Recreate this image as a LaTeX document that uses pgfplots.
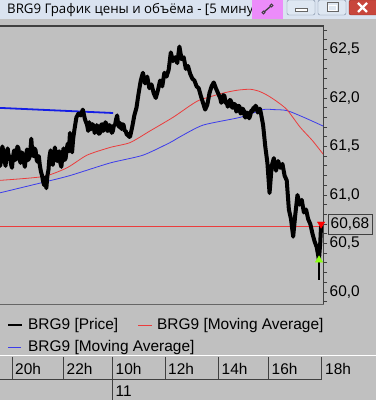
\documentclass[border=0pt]{standalone}
\usepackage{pgfplots}
\pgfplotsset{compat=1.18}
\usepackage{fontspec}
\setmainfont{Liberation Sans}
\newfontfamily\titlefont{Open Sans}
\definecolor{bg}{RGB}{192,192,192}
\definecolor{titlebg}{RGB}{218,227,240}
\definecolor{pinkicon}{RGB}{236,140,250}
\definecolor{closered}{RGB}{200,70,60}
\definecolor{btnbg}{RGB}{222,231,242}
\definecolor{btnborder}{RGB}{120,136,160}
\definecolor{frame}{RGB}{64,64,64}
\definecolor{mared}{RGB}{235,60,60}
\definecolor{mablue}{RGB}{60,60,235}
\definecolor{trendblue}{RGB}{20,30,230}
\definecolor{lowgreen}{RGB}{140,255,20}
\newcommand{\lf}{\fontsize{15.5}{17}\selectfont}
\begin{document}
\begin{tikzpicture}
\useasboundingbox (0,0) rectangle (376bp,400bp);
\clip (0,0) rectangle (376bp,400bp);
\fill[bg] (0,0) rectangle (376bp,400bp);
\begin{scope}[x=1bp,y=-1bp,yshift=400bp]
 % title bar
 \fill[titlebg] (0,0) rectangle (376,19);
 \node[anchor=base west, inner sep=0pt, font=\titlefont\fontsize{13.3}{15}\selectfont] at (7,13.5) {BRG9 График цены и объёма - [5 минут]};
 \fill[pinkicon] (252,0) rectangle (283,19);
 \draw[black!75, line width=1.3bp, line cap=round] (264,12) -- (271,6);
 \draw[black!75, line width=0.9bp] (263.5,12.5) circle (1.6);
 \draw[black!75, line width=0.9bp] (271.5,5.5) circle (1.6);
 % buttons
 \draw[btnborder, fill=btnbg, rounded corners=2bp] (287,0) rectangle (315,15);
 \draw[black!60, fill=white] (295,8) rectangle (307,11);
 \draw[btnborder, fill=btnbg, rounded corners=2bp] (318,0) rectangle (346,15);
 \draw[black!60, line width=1bp] (327,3) rectangle (338,12);
 \draw[white, line width=1bp] (328.5,5.5) rectangle (336.5,10.5);
 \draw[closered!70!black, fill=closered, rounded corners=2bp] (349,0) rectangle (380,15);
 \draw[white, line width=2.2bp] (358,3) -- (367,12) (367,3) -- (358,12);
\end{scope}
\begin{axis}[
 at={(0bp,96bp)}, anchor=south west,
 scale only axis, width=323bp, height=278bp,
 xmin=-0.59, xmax=149.9, ymin=59.876, ymax=62.742,
 axis x line=none, axis y line=right,
 axis line style={frame, line width=1bp, -},
 ytick={60,60.5,61,61.5,62,62.5},
 minor ytick={59.9,60.1,60.2,60.3,60.4,60.6,60.7,60.8,60.9,61.1,61.2,61.3,61.4,61.6,61.7,61.8,61.9,62.1,62.2,62.3,62.4,62.6,62.7},
 tick align=outside, major tick length=4bp, minor tick length=4bp,
 tick style={frame, line width=0.8bp},
 yticklabel style={font=\lf, inner sep=0pt, anchor=west, xshift=2.5bp, text=black},
 /pgf/number format/use comma, /pgf/number format/fixed, /pgf/number format/fixed zerofill, /pgf/number format/precision=1, /pgf/number format/assume math mode=true,
]
% current price line
\addplot[mared, line width=0.8bp] coordinates {(-1,60.68)(151,60.68)};
% blue trend line
\addplot[trendblue, line width=1.8bp] coordinates {(-1,61.898)(52.1,61.845)};
% moving averages
\addplot[mablue, line width=0.8bp, smooth, tension=0.4] coordinates {
(-1,61.02)(19.5,61.13)(32,61.20)(50.7,61.33)(66,61.41)(78.6,61.54)(83.3,61.60)(94,61.72)(111.2,61.80)(121.9,61.88)(127,61.88)(133.1,61.87)(141,61.80)(150,61.71)};
\addplot[mared, line width=0.8bp, smooth, tension=0.4] coordinates {
(-1,61.15)(19.5,61.19)(30.6,61.28)(39.9,61.41)(50.7,61.49)(60,61.54)(69.3,61.66)(80,61.80)(87.9,61.92)(92.6,61.98)(103.3,62.05)(110,62.08)(115.9,62.09)(120,62.07)(123.8,62.03)(128,61.97)(133.1,61.88)(139.2,61.70)(145,61.56)(150,61.42)};
% price
\addplot[black, line width=4bp, line join=round] coordinates {
(-1,61.40)(-0.5,61.30)(0,61.38)(0.5,61.50)(1,61.45)(1.5,61.36)(2,61.30)(2.5,61.42)(3,61.48)(3.5,61.38)(4,61.40)(4.5,61.32)(5,61.28)(5.5,61.40)(6,61.46)(6.5,61.36)(7,61.38)(7.5,61.50)(8,61.48)(8.5,61.37)(9,61.33)(9.5,61.44)
(10,61.42)(10.5,61.34)(11,61.29)(11.5,61.40)(12,61.47)(12.5,61.36)(13,61.38)(13.5,61.45)(14,61.58)(14.5,61.42)(15,61.40)(15.5,61.48)(16,61.46)(16.5,61.36)(17,61.34)(17.5,61.40)(18,61.30)(18.5,61.24)(19,61.20)(19.5,61.14)
(20,61.10)(20.5,61.18)(21,61.07)(21.5,61.20)(22,61.26)(22.5,61.40)(23,61.46)(23.5,61.34)(24,61.31)(24.5,61.42)(25,61.49)(25.5,61.38)(26,61.35)(26.5,61.44)(27,61.45)(27.5,61.33)(28,61.29)(28.5,61.40)(29,61.48)(29.5,61.36)
(30,61.38)(30.5,61.48)(31,61.53)(31.5,61.45)(32,61.64)(32.5,61.50)(33,61.44)(33.5,61.58)(34,61.66)(35,61.80)(36,61.84)(37,61.82)(38,61.88)(39,61.78)
(40,61.72)(40.5,61.66)(41,61.75)(41.5,61.68)(42,61.68)(42.5,61.73)(43,61.71)(43.5,61.64)(44,61.66)(44.5,61.72)(45,61.70)(45.5,61.63)(46,61.64)(46.5,61.72)(47,61.73)(47.5,61.66)(48,61.69)(48.5,61.75)(49,61.73)(49.5,61.66)
(50,61.67)(50.5,61.72)(51,61.70)(51.5,61.64)(52,61.66)(52.5,61.72)(53,61.72)(53.5,61.78)(54,61.82)(54.5,61.72)(55,61.70)(55.5,61.74)(56,61.68)(56.5,61.73)(57,61.72)(57.5,61.66)(58,61.66)(58.5,61.62)(59,61.63)(59.5,61.60)
(60,61.60)(61,61.70)(62,61.82)(63,61.90)(64,62.05)(65,62.18)(66,62.26)(67,62.15)(68,62.22)(69,62.10)
(70,62.14)(71,62.05)(72,62.00)(73,62.08)(74,62.18)(75,62.12)(76,62.26)(77,62.22)(78,62.29)(79,62.47)
(80,62.38)(81,62.42)(82,62.36)(83,62.53)(84,62.40)(85,62.42)(86,62.30)(87,62.33)(88,62.25)(89,62.20)
(90,62.18)(91,62.12)(92,62.10)(93,62.02)(94,61.95)(95,61.88)(96,61.93)(97,62.05)(98,62.12)(99,62.16)
(100,62.10)(101,62.05)(102,62.00)(102.5,61.95)(103,61.98)(103.5,62.03)(104,62.02)(104.5,61.95)(105,61.96)(105.5,61.91)(106,61.94)(106.5,61.98)(107,61.97)(107.5,61.90)(108,61.90)(108.5,61.94)(109,61.93)(109.5,61.86)
(110,61.88)(110.5,61.92)(111,61.91)(111.5,61.84)(112,61.85)(112.5,61.89)(113,61.87)(113.5,61.80)(114,61.80)(114.5,61.85)(115,61.84)(115.5,61.79)(116,61.82)(116.5,61.87)(117,61.86)(117.5,61.90)(118,61.88)(118.5,61.92)(119,61.90)(119.5,61.85)
(120,61.86)(120.5,61.89)(121,61.84)(121.5,61.78)(122,61.72)(123,61.50)(124,61.33)(125,61.02)(126,61.30)(127,61.38)(128,61.25)(129,61.35)
(130,61.28)(131,61.32)(132,61.20)(133,61.15)(134,60.85)(135,60.75)(136,60.57)(137,60.80)(138,61.00)(139,60.90)
(140,60.95)(141,60.82)(142,60.85)(143,60.75)(144,60.70)(145,60.60)(146,60.52)(147,60.46)(148,60.33)(148.6,60.50)(149,60.68)};
% last candle wick
\addplot[black, line width=1.3bp] coordinates {(148.1,60.33)(148.1,60.12)};
% high/low markers
\addplot[only marks, mark=triangle*, mark size=4.2bp, mark options={fill=lowgreen, draw=lowgreen}] coordinates {(148.05,60.33)};
\addplot[only marks, mark=triangle*, mark size=4.2bp, mark options={fill=red, draw=red, rotate=180}] coordinates {(149.0,60.70)};
\end{axis}
\begin{scope}[x=1bp,y=-1bp,yshift=400bp]
 % frame lines
 \draw[frame, line width=1.2bp] (0,26) -- (323.5,26);
 \draw[frame!80, line width=1.3bp] (0,304.5) -- (323.5,304.5);
 % price label box
 \node[draw=frame, line width=0.9bp, fill=bg, inner sep=0pt, minimum width=44bp, minimum height=20bp, font=\lf] at (350,224) {60,68};
 % legend
 \draw[black, line width=2bp] (8,325) -- (22,325);
 \node[anchor=base west, inner sep=0pt, font=\lf] at (28,330) {BRG9 [Price]};
 \draw[mared, line width=0.8bp] (138,325) -- (152,325);
 \node[anchor=base west, inner sep=0pt, font=\lf] at (157,330) {BRG9 [Moving Average]};
 \draw[mablue, line width=0.8bp] (8,347) -- (21,347);
 \node[anchor=base west, inner sep=0pt, font=\lf] at (28,352) {BRG9 [Moving Average]};
 % separator
 \draw[white, line width=1.5bp] (0,355.5) -- (376,355.5);
 % time strip
 \draw[frame, line width=1bp] (0,380) -- (321.5,380);
 \foreach \xx in {12.3,63.3,165,218.3,268.3,321.7} {\draw[frame, line width=1bp] (\xx,357) -- (\xx,380);}
 \draw[frame, line width=1bp] (112.3,357) -- (112.3,400);
 \foreach \xx/\lab in {15/20h,66.5/22h,115.5/10h,168/12h,221.5/14h,271.5/16h,325/18h} {
   \node[anchor=base west, inner sep=0pt, font=\lf] at (\xx,375) {\lab};}
 \node[anchor=base west, inner sep=0pt, font=\lf] at (115.5,397) {11};
\end{scope}
\end{tikzpicture}
\end{document}
